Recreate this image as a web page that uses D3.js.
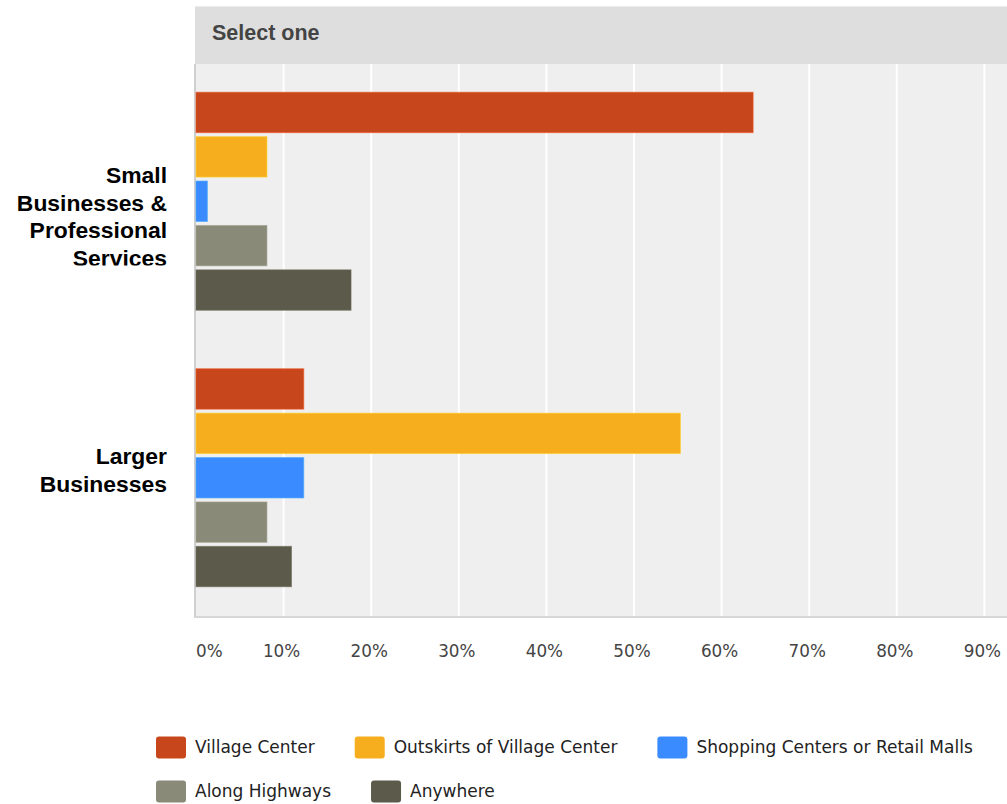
<!DOCTYPE html>
<html>
<head>
<meta charset="utf-8">
<script src="https://cdn.jsdelivr.net/npm/d3@7"></script>
<style>
  html, body { margin: 0; padding: 0; background: #ffffff; }
  svg { display: block; }
</style>
</head>
<body>
<script>
// ---------- data ----------
const categories = ["Small Businesses & Professional Services", "Larger Businesses"];
const categoryLines = [["Small", "Businesses &", "Professional", "Services"], ["Larger", "Businesses"]];
const seriesNames = ["Village Center", "Outskirts of Village Center", "Shopping Centers or Retail Malls", "Along Highways", "Anywhere"];
const seriesColors = ["#c8461b", "#f6ae1f", "#3a8bff", "#8a8a78", "#5c5a4a"];
const valuesSmall = [63.6, 8.1, 1.3, 8.1, 17.7];
const valuesLarger = [12.3, 55.3, 12.3, 8.1, 10.9];
const tickValues = [0, 10, 20, 30, 40, 50, 60, 70, 80, 90];
const tickLabels = ["0%", "10%", "20%", "30%", "40%", "50%", "60%", "70%", "80%", "90%"];
const headerTitle = "Select one";

const W = 1007, H = 804;
const plotLeft = 195, plotTop = 64, plotBottom = 617, headerTop = 7;

const svg = d3.select("body").append("svg").attr("width", W).attr("height", H);

const x = d3.scaleLinear().domain([0, 100]).range([196, 1072]);
const y0 = d3.scaleBand().domain(categories).range([plotTop, plotBottom]).padding(0);
const groupH = 218;
const y1 = d3.scaleBand().domain(seriesNames).range([0, groupH]).paddingInner(0.09).paddingOuter(0);
const color = d3.scaleOrdinal().domain(seriesNames).range(seriesColors);

// header
svg.append("rect").attr("x", plotLeft).attr("y", headerTop - 1).attr("width", W - plotLeft).attr("height", 1).attr("fill", "#ececec");
svg.append("rect").attr("x", plotLeft).attr("y", headerTop).attr("width", W - plotLeft).attr("height", plotTop - headerTop).attr("fill", "#dedede");
svg.append("text").attr("x", 212).attr("y", 40)
  .attr("font-family", "Liberation Sans, Arial, sans-serif").attr("font-weight", "bold")
  .attr("font-size", 21.5).attr("fill", "#444").text(headerTitle);

// plot background
svg.append("rect").attr("x", plotLeft).attr("y", plotTop).attr("width", W - plotLeft).attr("height", plotBottom - plotTop).attr("fill", "#efefef");

// grid lines
svg.append("g").selectAll("line").data(tickValues.slice(1)).join("line")
  .attr("x1", d => x(d)).attr("x2", d => x(d))
  .attr("y1", plotTop).attr("y2", plotBottom)
  .attr("stroke", "#ffffff").attr("stroke-width", 2);

// axis lines
svg.append("line").attr("x1", plotLeft).attr("x2", plotLeft).attr("y1", plotTop).attr("y2", plotBottom + 1)
  .attr("stroke", "#cfcfcf").attr("stroke-width", 2);
svg.append("line").attr("x1", plotLeft).attr("x2", W).attr("y1", plotBottom).attr("y2", plotBottom)
  .attr("stroke", "#d6d6d6").attr("stroke-width", 2);

// bars
const rows = [valuesSmall, valuesLarger];
const groups = svg.append("g").selectAll("g").data(categories).join("g")
  .attr("transform", d => `translate(0,${y0(d) + (y0.bandwidth() - groupH) / 2 - 1})`);
groups.selectAll("rect").data((d, i) => seriesNames.map((s, j) => ({ s, v: rows[i][j] }))).join("rect")
  .attr("x", x(0))
  .attr("y", d => y1(d.s))
  .attr("width", d => x(d.v) - x(0))
  .attr("height", y1.bandwidth())
  .attr("fill", d => color(d.s))
  .attr("stroke", d => d3.color(color(d.s)).brighter(0.5).formatHex())
  .attr("stroke-opacity", 0.6)
  .attr("stroke-width", 1);

// category labels
const defs = svg.append("defs");
defs.append("clipPath").attr("id", "labclip").append("rect")
  .attr("x", 0).attr("y", plotTop).attr("width", plotLeft).attr("height", 265.5 - plotTop);
const labelOffsets = [-19, -14.3];
const lineH = 27.6;
const labG = svg.append("g").attr("font-family", "Liberation Sans, Arial, sans-serif")
  .attr("font-weight", "bold").attr("font-size", 22.9).attr("fill", "#000").attr("text-anchor", "end");
categories.forEach((c, i) => {
  const cy = y0(c) + y0.bandwidth() / 2;
  const t = labG.append("text").attr("clip-path", i === 0 ? "url(#labclip)" : null);
  categoryLines[i].forEach((ln, k) => {
    t.append("tspan").attr("x", 167).attr("y", cy + labelOffsets[i] + k * lineH).text(ln);
  });
});

// tick labels
svg.append("g").attr("font-family", "DejaVu Sans, sans-serif").attr("font-size", 16.8).attr("fill", "#444")
  .selectAll("text").data(tickValues).join("text")
  .attr("x", (d, i) => i === 0 ? x(d) : x(d) - 2)
  .attr("y", 657)
  .attr("text-anchor", (d, i) => i === 0 ? "start" : "middle")
  .text((d, i) => tickLabels[i]);

// legend
const legendRows = [[0, 1, 2], [3, 4]];
const legendBaselines = [753, 797];
const legendG = svg.append("g").attr("font-family", "DejaVu Sans, sans-serif").attr("font-size", 17.0).attr("fill", "#222");
legendRows.forEach((row, r) => {
  let cx = 156;
  row.forEach(j => {
    legendG.append("rect").attr("x", cx).attr("y", legendBaselines[r] - 16.5).attr("width", 30).attr("height", 22)
      .attr("rx", 3).attr("fill", seriesColors[j]);
    const t = legendG.append("text").attr("x", cx + 39).attr("y", legendBaselines[r]).text(seriesNames[j]);
    cx = cx + 39 + t.node().getComputedTextLength() + 40;
  });
});
</script>
</body>
</html>
